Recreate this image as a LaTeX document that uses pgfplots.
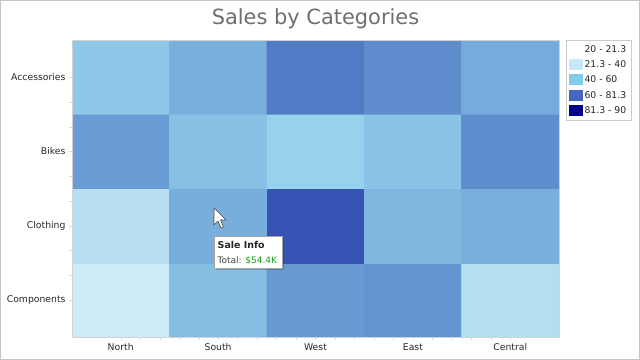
\documentclass[border=0pt]{standalone}
\usepackage{pgfplots}
\pgfplotsset{compat=1.18}
\usepackage{fontspec}
\setmainfont{DejaVu Sans}
\definecolor{titlegray}{HTML}{6E6E6E}
\definecolor{lgA}{HTML}{FFFFFF}
\definecolor{lgB}{HTML}{C6E7F5}
\definecolor{lgC}{HTML}{80CBE8}
\definecolor{lgD}{HTML}{4466C0}
\definecolor{lgE}{HTML}{00008B}
\definecolor{tipgreen}{HTML}{1A9A1A}
\begin{document}
\begin{tikzpicture}
\begin{axis}[
  at={(72bp,23bp)}, anchor=south west,
  scale only axis, width=487bp, height=297bp,
  xmin=-0.5, xmax=4.5, ymin=-0.5, ymax=3.5,
  enlargelimits=false,
  xtick={0,...,4}, xticklabels={North,South,West,East,Central},
  ytick={0,...,3}, yticklabels={Components,Clothing,Bikes,Accessories},
  minor x tick num=4, minor y tick num=2,
  tick pos=left,
  tick align=outside, major tick length=3bp, minor tick length=3bp,
  tick style={gray!30}, axis line style={gray!35},
  ticklabel style={font=\fontsize{9.3}{10}\selectfont, text=black!85},
  axis on top,
  colormap={sales}{rgb255(20pt)=(255,255,255) rgb255(21.3pt)=(207,234,246) rgb255(40pt)=(150,210,236) rgb255(60pt)=(108,160,214) rgb255(81.3pt)=(52,82,178) rgb255(90pt)=(0,0,139)},
  point meta min=20, point meta max=90,
  legend style={at={(1,1)}, anchor=north west, xshift=7bp, draw=gray!40,
    font=\fontsize{9.3}{10}\selectfont, text=black!85, row sep=3bp,
    inner xsep=3bp, inner ysep=3bp, cells={anchor=west}},
]
\addplot[matrix plot*, mesh/cols=5, point meta=explicit, forget plot] table[meta=v] {
x y v
0 0 21.5
1 0 48
2 0 62
3 0 63.5
4 0 30
0 1 28.8
1 1 54.4
2 1 81
3 1 51
4 1 54
0 2 61
1 2 47
2 2 40
3 2 46
4 2 65
0 3 44
1 3 54
2 3 70
3 3 65.5
4 3 55
};
\addlegendimage{legend image code/.code={\fill[lgA] (0bp,-4.5bp) rectangle (13bp,5.5bp);}}
\addlegendentry{20 - 21.3}
\addlegendimage{legend image code/.code={\fill[lgB] (0bp,-4.5bp) rectangle (13bp,5.5bp);}}
\addlegendentry{21.3 - 40}
\addlegendimage{legend image code/.code={\fill[lgC] (0bp,-4.5bp) rectangle (13bp,5.5bp);}}
\addlegendentry{40 - 60}
\addlegendimage{legend image code/.code={\fill[lgD] (0bp,-4.5bp) rectangle (13bp,5.5bp);}}
\addlegendentry{60 - 81.3}
\addlegendimage{legend image code/.code={\fill[lgE] (0bp,-4.5bp) rectangle (13bp,5.5bp);}}
\addlegendentry{81.3 - 90}
\end{axis}
% title
\node[text=titlegray, font=\fontsize{21}{24}\selectfont] at (315.5bp,341bp) {Sales by Categories};
% tooltip
\fill[black, opacity=0.18] (216bp,90bp) rectangle (284bp,122bp);
\draw[gray!70, fill=white] (214bp,92bp) rectangle (282bp,124bp);
\node[anchor=base west, font=\bfseries\fontsize{9.5}{10}\selectfont, text=black!85, inner sep=0pt] at (217.5bp,111bp) {Sale Info};
\node[anchor=base west, font=\fontsize{9}{10}\selectfont, text=black!75, inner sep=0pt] at (217.5bp,96bp) {Total: \textcolor{tipgreen}{\$54.4K}};
% cursor
\draw[gray!60!black, fill=white, line width=0.6bp, line join=round]
  (214bp,152bp) -- (214bp,135bp) -- (218bp,139bp) -- (221bp,132bp) -- (223.5bp,133bp) -- (220.5bp,140bp) -- (226bp,140bp) -- cycle;
% outer frame
\draw[gray!45, line width=1bp] (0.5bp,0.5bp) rectangle (639.5bp,359.5bp);
\end{tikzpicture}
\end{document}
